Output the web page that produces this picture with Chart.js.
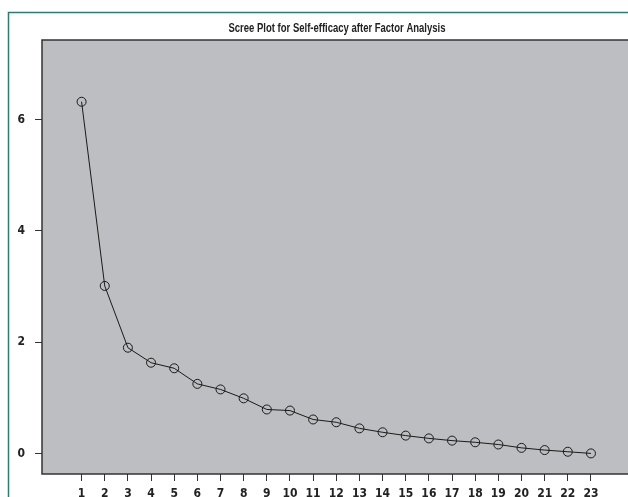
<!DOCTYPE html>
<html>
<head>
<meta charset="utf-8">
<script src="https://cdn.jsdelivr.net/npm/chart.js@4"></script>
<style>
  html, body { margin: 0; padding: 0; background: #ffffff; }
  #wrap { width: 628px; height: 497px; }
</style>
</head>
<body>
<div id="wrap"><canvas id="scree" width="628" height="497"></canvas></div>
<script>
// Datos del scree plot
const factores = [1, 2, 3, 4, 5, 6, 7, 8, 9, 10, 11, 12, 13, 14, 15, 16, 17, 18, 19, 20, 21, 22, 23];
const eigenvalores = [6.32, 3.01, 1.90, 1.63, 1.53, 1.25, 1.15, 0.99, 0.79, 0.77, 0.61, 0.56, 0.45, 0.38, 0.32, 0.27, 0.23, 0.20, 0.16, 0.10, 0.06, 0.03, 0.0];
const ticksY = [0, 2, 4, 6];
const titulo = 'Scree Plot for Self-efficacy after Factor Analysis';

const fuente = '"DejaVu Sans", sans-serif';
const peso = 'bold condensed';

// Fondo gris del área, marco y título
const marco = {
    id: 'marco',
    beforeDraw(chart) {
        const { ctx, chartArea: a } = chart;
        ctx.save();
        ctx.fillStyle = '#bdbec2';
        ctx.fillRect(a.left, a.top, a.right - a.left, a.bottom - a.top);
        // borde verde exterior
        ctx.strokeStyle = '#2b7d72';
        ctx.lineWidth = 1.5;
        ctx.beginPath();
        ctx.moveTo(8.5, 497);
        ctx.lineTo(8.5, 12.5);
        ctx.lineTo(628, 12.5);
        ctx.stroke();
        ctx.restore();
    },
    afterDraw(chart) {
        const { ctx, chartArea: a } = chart;
        ctx.save();
        ctx.strokeStyle = '#333333';
        ctx.lineWidth = 1.5;
        ctx.beginPath();
        ctx.moveTo(a.right, a.top);
        ctx.lineTo(a.left, a.top);
        ctx.lineTo(a.left, a.bottom);
        ctx.lineTo(a.right, a.bottom);
        ctx.stroke();
        // título en letra estrecha
        ctx.fillStyle = '#222222';
        ctx.font = 'bold 12px "Liberation Sans", Arial, sans-serif';
        ctx.textAlign = 'center';
        ctx.textBaseline = 'middle';
        const ancho = ctx.measureText(titulo).width;
        const k = Math.min(1, 217 / ancho);
        ctx.translate(337, 29);
        ctx.scale(k, 1);
        ctx.fillText(titulo, 0, 0);
        ctx.restore();
    }
};

const datos = factores.map((f, i) => ({ x: f, y: eigenvalores[i] }));

new Chart(document.getElementById('scree'), {
    type: 'line',
    data: {
        datasets: [{
            data: datos,
            borderColor: '#1a1a1a',
            borderWidth: 1,
            pointStyle: 'circle',
            pointRadius: 4.5,
            pointBorderWidth: 1,
            pointBorderColor: '#1a1a1a',
            pointBackgroundColor: 'rgba(0,0,0,0)',
            tension: 0
        }]
    },
    options: {
        responsive: false,
        animation: false,
        layout: { autoPadding: false, padding: { left: 0, top: 40, right: 0, bottom: 0 } },
        plugins: { legend: { display: false }, tooltip: { enabled: false } },
        scales: {
            x: {
                type: 'linear',
                min: -0.71,
                max: 24.6,
                afterBuildTicks: s => { s.ticks = factores.map(v => ({ value: v })); },
                afterFit: s => { s.height = 23; s.paddingLeft = 0; s.paddingRight = 0; },
                border: { display: false },
                grid: { drawOnChartArea: false, tickLength: 7, color: '#333333', lineWidth: 1 },
                ticks: {
                    padding: 6,
                    color: '#222222',
                    font: { family: fuente, size: 12, weight: peso },
                    maxRotation: 0,
                    autoSkip: false
                }
            },
            y: {
                min: -0.37,
                max: 7.43,
                afterBuildTicks: s => { s.ticks = ticksY.map(v => ({ value: v })); },
                afterFit: s => { s.width = 42; s.paddingTop = 0; s.paddingBottom = 0; },
                border: { display: false },
                grid: { drawOnChartArea: false, tickLength: 7, color: '#333333', lineWidth: 1 },
                ticks: {
                    padding: 10,
                    color: '#222222',
                    font: { family: fuente, size: 12, weight: peso }
                }
            }
        }
    },
    plugins: [marco]
});
</script>
</body>
</html>
